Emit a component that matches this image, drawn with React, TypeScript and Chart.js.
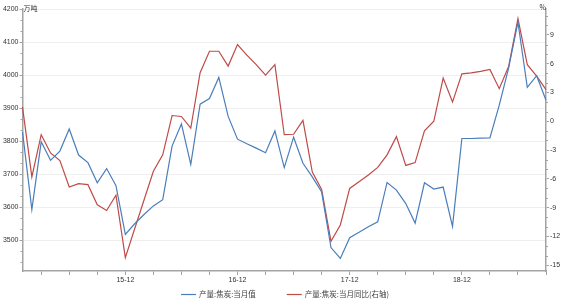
import React, { useEffect, useRef } from 'react';
import { Chart, registerables } from 'chart.js';

Chart.register(...registerables);

const months = [
  '15-01', '15-02', '15-03', '15-04', '15-05', '15-06', '15-07', '15-08', '15-09', '15-10', '15-11', '15-12',
  '16-01', '16-02', '16-03', '16-04', '16-05', '16-06', '16-07', '16-08', '16-09', '16-10', '16-11', '16-12',
  '17-01', '17-02', '17-03', '17-04', '17-05', '17-06', '17-07', '17-08', '17-09', '17-10', '17-11', '17-12',
  '18-01', '18-02', '18-03', '18-04', '18-05', '18-06', '18-07', '18-08', '18-09', '18-10', '18-11', '18-12',
  '19-01', '19-02', '19-03', '19-04', '19-05', '19-06', '19-07', '19-08', '19-09',
];

// 产量:焦炭:当月值 (万吨)
const output = [
  3828, 3593, 3798, 3742, 3770, 3837, 3758, 3735, 3674, 3717, 3665, 3518,
  3550, 3578, 3604, 3623, 3785, 3852, 3730, 3912, 3929, 3993, 3875, 3806,
  3792, 3779, 3765, 3831, 3720, 3812, 3733, 3692, 3646, 3478, 3445, 3508,
  3524, 3541, 3556, 3675, 3652, 3611, 3552, 3674, 3655, 3661, 3542, 3808,
  3808, 3809, 3810, 3909, 4021, 4160, 3963, 3998, 3924,
];

// 产量:焦炭:当月同比 (%)
const yoy = [
  1.5, -5.8, -1.4, -3.3, -4.1, -6.85, -6.5, -6.6, -8.7, -9.3, -7.7, -14.2,
  -11.2, -8.2, -5.2, -3.5, 0.6, 0.5, -0.7, 5.06, 7.3, 7.3, 5.75, 8.0,
  6.9, 5.9, 4.8, 5.9, -1.4, -1.35, 0.1, -5.3, -7.1, -12.5, -10.8, -7.0,
  -6.3, -5.6, -4.8, -3.5, -1.6, -4.6, -4.3, -1.0, 0.0, 4.5, 2.0, 4.95,
  5.05, 5.2, 5.4, 3.4, 5.7, 10.7, 5.9, 4.7, 3.3,
];

const leftTicks = [3500, 3600, 3700, 3800, 3900, 4000, 4100, 4200];
const rightTicks = [-15, -12, -9, -6, -3, 0, 3, 6, 9];
const seriesNames = ['产量:焦炭:当月值', '产量:焦炭:当月同比(右轴)'];
const leftUnit = '万吨';
const rightUnit = '%';

const BLUE = '#4a7ebb';
const RED = '#be4b48';
const AXIS = '#a3a3a3';
const TEXT = '#333333';
const TICK_FONT = { family: '"Liberation Sans", Arial, sans-serif', size: 7 };
const CJK = '"Noto Sans CJK SC", "Liberation Sans", sans-serif';

const decorPlugin = {
  id: 'decor',
  afterDraw(chart: any) {
    const { ctx, chartArea } = chart;
    const yS = chart.scales.y;
    const y1S = chart.scales.y1;
    ctx.save();
    // minor ticks
    ctx.strokeStyle = AXIS;
    ctx.lineWidth = 1;
    ctx.beginPath();
    for (let k = 0; k < 40; k++) {
      const v = 4200 - (k * 100) / 3;
      if (v < yS.min) break;
      if (k % 3 === 0) continue;
      const py = Math.round(yS.getPixelForValue(v)) + 0.5;
      ctx.moveTo(chartArea.left - 2, py);
      ctx.lineTo(chartArea.left, py);
    }
    for (let v = Math.ceil(y1S.min); v <= y1S.max; v++) {
      if (v % 3 === 0) continue;
      const py = Math.round(y1S.getPixelForValue(v)) + 0.5;
      ctx.moveTo(chartArea.right, py);
      ctx.lineTo(chartArea.right + 2, py);
    }
    ctx.stroke();

    // unit labels
    ctx.fillStyle = TEXT;
    ctx.font = `7px ${CJK}`;
    ctx.textBaseline = 'middle';
    ctx.textAlign = 'left';
    ctx.fillText(leftUnit, chartArea.left + 1, chartArea.top - 1);
    ctx.textAlign = 'right';
    ctx.fillText(rightUnit, chartArea.right, chartArea.top - 2);

    // legend
    ctx.font = `7.5px ${CJK}`;
    ctx.fillStyle = '#444444';
    ctx.textAlign = 'left';
    const lineW = 15;
    const gapText = 3;
    const itemGap = 31;
    const items = chart.data.datasets.map((d: any) => ({ label: d.label, color: d.borderColor }));
    const widths = items.map((it: any) => lineW + gapText + ctx.measureText(it.label).width);
    const total = widths.reduce((a: number, b: number) => a + b, 0) + itemGap * (items.length - 1);
    let x = chart.width / 2 + 2 - total / 2;
    const ly = 294;
    items.forEach((it: any, i: number) => {
      ctx.strokeStyle = it.color;
      ctx.lineWidth = 1.2;
      ctx.beginPath();
      ctx.moveTo(x, ly + 0.5);
      ctx.lineTo(x + lineW, ly + 0.5);
      ctx.stroke();
      ctx.fillText(it.label, x + lineW + gapText, ly);
      x += widths[i] + itemGap;
    });
    ctx.restore();
  },
};

export default function App() {
  const ref = useRef<HTMLCanvasElement>(null);
  useEffect(() => {
    document.body.style.margin = '0';
    const chart = new Chart(ref.current!, {
      type: 'line',
      data: {
        labels: months,
        datasets: [
          {
            label: seriesNames[0],
            data: output,
            borderColor: BLUE,
            backgroundColor: BLUE,
            borderWidth: 1.2,
            pointRadius: 0,
            tension: 0,
            yAxisID: 'y',
          },
          {
            label: seriesNames[1],
            data: yoy,
            borderColor: RED,
            backgroundColor: RED,
            borderWidth: 1.2,
            pointRadius: 0,
            tension: 0,
            yAxisID: 'y1',
          },
        ],
      },
      options: {
        animation: false,
        responsive: false,
        layout: { padding: { top: 9, bottom: 17, left: 0, right: 0 } },
        plugins: { legend: { display: false }, tooltip: { enabled: false } },
        scales: {
          x: {
            type: 'category',
            offset: false,
            grid: { drawOnChartArea: false, tickLength: 4, color: AXIS },
            border: { color: AXIS, width: 1.5 },
            ticks: {
              autoSkip: false,
              maxRotation: 0,
              padding: 1,
              font: TICK_FONT,
              color: TEXT,
              callback(this: any, v: any) {
                const l = this.getLabelForValue(v);
                return l.endsWith('-12') ? l : '';
              },
            },
            afterBuildTicks(scale: any) {
              scale.ticks = scale.ticks.filter((t: any) => t.value % 3 === 2);
            },
            afterFit(scale: any) {
              scale.height = 14;
            },
          },
          y: {
            position: 'left',
            min: 3407,
            max: 4200,
            afterBuildTicks(scale: any) {
              scale.ticks = leftTicks.map((v) => ({ value: v }));
            },
            grid: { color: '#efefef', tickColor: AXIS, tickLength: 3 },
            border: { color: AXIS, width: 1.5 },
            ticks: { padding: 1, font: TICK_FONT, color: TEXT, callback: (v: any) => String(v) },
            afterFit(scale: any) {
              scale.width = 22.5;
            },
          },
          y1: {
            position: 'right',
            min: -15.6,
            max: 11.7,
            afterBuildTicks(scale: any) {
              scale.ticks = rightTicks.map((v) => ({ value: v }));
            },
            grid: { drawOnChartArea: false, tickColor: AXIS, tickLength: 3 },
            border: { color: AXIS, width: 1.5 },
            ticks: { padding: 1, font: TICK_FONT, color: TEXT, callback: (v: any) => String(v) },
            afterFit(scale: any) {
              scale.width = 20;
            },
          },
        },
      },
      plugins: [decorPlugin],
    });
    return () => chart.destroy();
  }, []);
  return (
    <div style={{ width: 566, height: 302 }}>
      <canvas ref={ref} width={566} height={302} />
    </div>
  );
}
